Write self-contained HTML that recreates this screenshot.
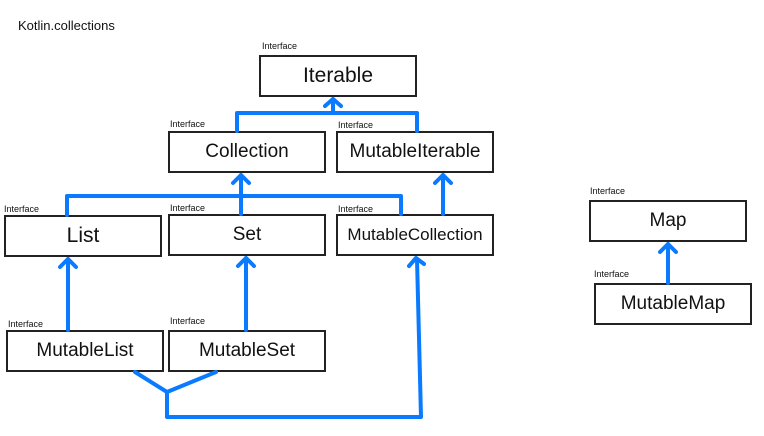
<!DOCTYPE html>
<html><head><style>
body{margin:0;width:764px;height:436px;background:#fff;overflow:hidden;position:relative;font-family:"Liberation Sans",sans-serif}
.b{position:absolute;border:2px solid #222;box-sizing:border-box;display:flex;align-items:center;justify-content:center;font-size:19px;color:#111}
.l{position:absolute;font-size:9px;color:#111}
svg{position:absolute;left:0;top:0}
</style></head><body>
<div class="l" style="left:18px;top:18px;font-size:13px">Kotlin.collections</div>
<div class="l" style="left:262px;top:41px">Interface</div>
<div class="b" style="left:259px;top:55px;width:158px;height:42px;font-size:21px">Iterable</div>
<div class="l" style="left:170px;top:119px">Interface</div>
<div class="b" style="left:168px;top:131px;width:158px;height:42px">Collection</div>
<div class="l" style="left:338px;top:120px">Interface</div>
<div class="b" style="left:336px;top:131px;width:158px;height:42px">MutableIterable</div>
<div class="l" style="left:4px;top:204px">Interface</div>
<div class="b" style="left:4px;top:215px;width:158px;height:42px;font-size:21px">List</div>
<div class="l" style="left:170px;top:203px">Interface</div>
<div class="b" style="left:168px;top:214px;width:158px;height:42px">Set</div>
<div class="l" style="left:338px;top:204px">Interface</div>
<div class="b" style="left:336px;top:214px;width:158px;height:42px;font-size:17px">MutableCollection</div>
<div class="l" style="left:8px;top:319px">Interface</div>
<div class="b" style="left:6px;top:330px;width:158px;height:42px">MutableList</div>
<div class="l" style="left:170px;top:316px">Interface</div>
<div class="b" style="left:168px;top:330px;width:158px;height:42px">MutableSet</div>
<div class="l" style="left:590px;top:186px">Interface</div>
<div class="b" style="left:589px;top:200px;width:158px;height:42px">Map</div>
<div class="l" style="left:594px;top:269px">Interface</div>
<div class="b" style="left:594px;top:283px;width:158px;height:42px">MutableMap</div>
<svg width="764" height="436" fill="none" stroke="#0a7aff" stroke-width="4" stroke-linecap="round" stroke-linejoin="round">
<path d="M237 131V113H417V131M333 113V99M325 106L333 99L341 106"/>
<path d="M67 215V196H401V214M241 214V175M233 183L241 175L249 183"/>
<path d="M443 214V175M435 183L443 175L451 183"/>
<path d="M68 330V259M60 267L68 259L76 267"/>
<path d="M246 330V258M238 266L246 258L254 266"/>
<path d="M135 372L167 392L216 372M167 392V417H421L417 259M409 266L416 258L424 264"/>
<path d="M668 283V244M660 252L668 244L676 252"/>
</svg>
</body></html>
